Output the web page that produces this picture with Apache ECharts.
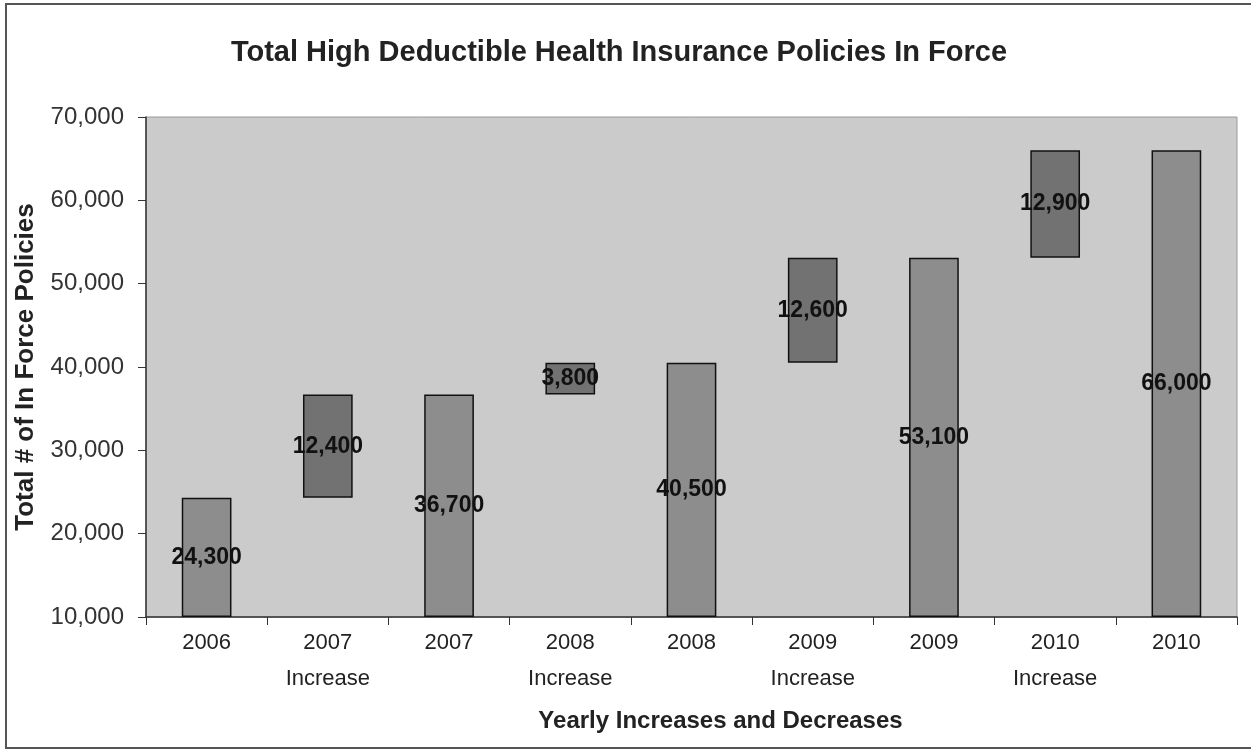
<!DOCTYPE html>
<html>
<head>
<meta charset="utf-8">
<title>High Deductible Health Insurance Policies</title>
<script src="https://cdn.jsdelivr.net/npm/echarts@6/dist/echarts.min.js"></script>
<style>
  html, body { margin: 0; padding: 0; background: #fff; }
  #chart { width: 1251px; height: 750px; }
</style>
</head>
<body>
<div id="chart"></div>
<script>
  // categories along the x axis
  var categories = ['2006', '2007\nIncrease', '2007', '2008\nIncrease', '2008',
                    '2009\nIncrease', '2009', '2010\nIncrease', '2010'];
  // running totals (shown as full bars)
  var totals = [24300, null, 36700, null, 40500, null, 53100, null, 66000];
  // yearly increases (shown as floating bars)
  var increases = [null, 12400, null, 3800, null, 12600, null, 12900, null];
  var yTicks = [10000, 20000, 30000, 40000, 50000, 60000, 70000];

  var axisMin = yTicks[0];
  var axisMax = yTicks[yTicks.length - 1];

  // invisible base for the stacked waterfall
  var base = [];
  var totalPart = [];
  var incPart = [];
  var prev = axisMin;
  for (var i = 0; i < categories.length; i++) {
    if (totals[i] != null) {
      base.push(axisMin);
      totalPart.push(totals[i] - axisMin);
      incPart.push('-');
      prev = totals[i];
    } else {
      base.push(prev);
      totalPart.push('-');
      incPart.push(increases[i]);
      prev = prev + increases[i];
    }
  }

  function fmt(v) {
    return v.toString().replace(/\B(?=(\d{3})+(?!\d))/g, ',');
  }

  var chart = echarts.init(document.getElementById('chart'));
  var labelStyle = {
    show: true,
    position: 'inside',
    color: '#111',
    fontSize: 23,
    fontWeight: 'bold',
    fontFamily: 'Liberation Sans, Arial, sans-serif'
  };

  chart.setOption({
    animation: false,
    textStyle: { fontFamily: 'Liberation Sans, Arial, sans-serif' },
    title: {
      text: 'Total High Deductible Health Insurance Policies In Force',
      left: 614,
      top: 33,
      textAlign: 'center',
      textStyle: { fontSize: 29, fontWeight: 'bold', color: '#222' }
    },
    graphic: [{
      type: 'rect',
      shape: { x: 6, y: 4, width: 1260, height: 744 },
      style: { fill: 'none', stroke: '#555', lineWidth: 2 },
      silent: true
    }],
    grid: {
      left: 146,
      right: 14,
      top: 117,
      bottom: 133,
      show: true,
      backgroundColor: '#cbcbcb',
      borderColor: '#9a9a9a',
      borderWidth: 1
    },
    xAxis: {
      type: 'category',
      data: categories,
      name: 'Yearly Increases and Decreases',
      nameLocation: 'middle',
      nameGap: 92,
      nameTextStyle: { fontSize: 24, fontWeight: 'bold', color: '#222', padding: [0, 0, 0, 58] },
      axisLine: { lineStyle: { color: '#333', width: 1.5 } },
      axisTick: { show: true, length: 8, alignWithLabel: false, lineStyle: { color: '#333' } },
      axisLabel: { fontSize: 22, color: '#222', margin: 8, lineHeight: 36, interval: 0 }
    },
    yAxis: {
      type: 'value',
      min: axisMin,
      max: axisMax,
      interval: yTicks[1] - yTicks[0],
      name: 'Total # of In Force Policies',
      nameLocation: 'middle',
      nameGap: 107,
      nameRotate: 90,
      nameTextStyle: { fontSize: 26, fontWeight: 'bold', color: '#222' },
      axisLine: { show: true, lineStyle: { color: '#333', width: 1.5 } },
      axisTick: { show: true, length: 8, lineStyle: { color: '#333' } },
      splitLine: { show: false },
      axisLabel: {
        fontSize: 24,
        color: '#333',
        margin: 22,
        formatter: function (v) { return fmt(v); }
      }
    },
    series: [
      {
        name: 'base',
        type: 'bar',
        stack: 'wf',
        data: base,
        barWidth: '41%',
        itemStyle: { color: 'transparent' },
        silent: true
      },
      {
        name: 'Total',
        type: 'bar',
        stack: 'wf',
        data: totalPart,
        itemStyle: { color: '#8d8d8d', borderColor: '#111', borderWidth: 1.5 },
        label: Object.assign({}, labelStyle, {
          formatter: function (p) { return fmt(totals[p.dataIndex]); }
        })
      },
      {
        name: 'Increase',
        type: 'bar',
        stack: 'wf',
        data: incPart,
        itemStyle: { color: '#727272', borderColor: '#111', borderWidth: 1.5 },
        label: Object.assign({}, labelStyle, {
          formatter: function (p) { return fmt(increases[p.dataIndex]); }
        })
      }
    ]
  });
</script>
</body>
</html>
